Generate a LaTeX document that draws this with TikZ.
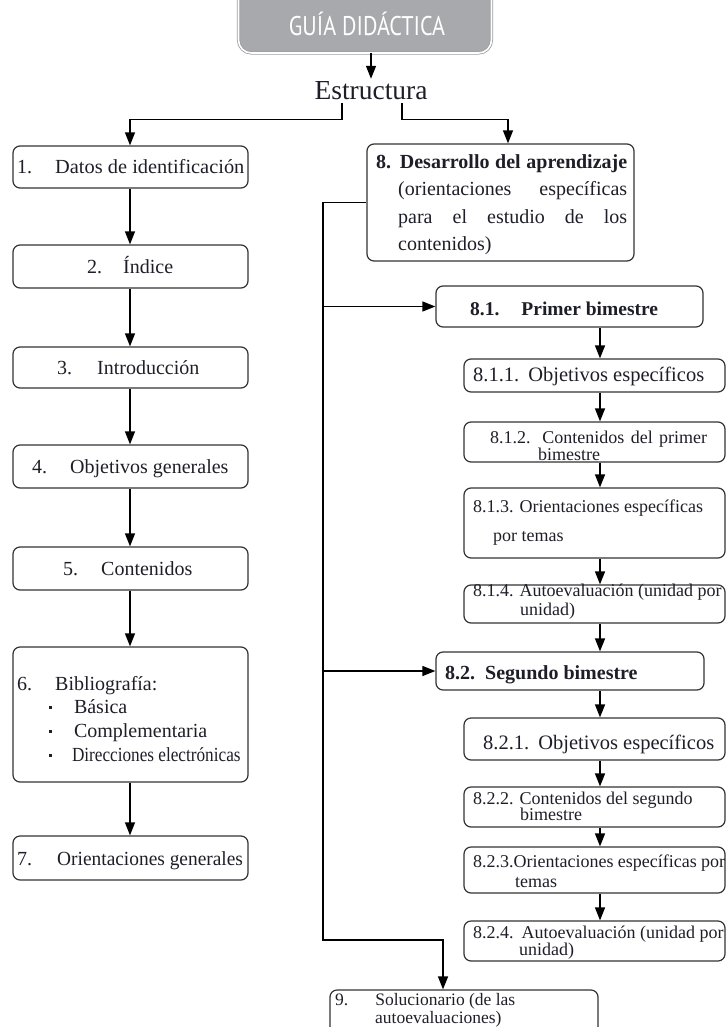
\documentclass[tikz,border=0pt]{standalone}
\usepackage{fontspec}
\setmainfont{Liberation Serif}
\newfontfamily\hdrfont{PT Sans}
\usetikzlibrary{arrows.meta}
\definecolor{ink}{HTML}{1E1E28}
\definecolor{hdrgray}{HTML}{A7A9AC}
\definecolor{hdredge}{HTML}{9C9EA1}
\definecolor{edge}{HTML}{333333}
\newcommand\mybox[5]{\node[box, minimum width={(#4-#2)*1pt}, minimum height={(#5-#3)*1pt}] (#1) at ({(#2+#4)/2},{(#3+#5)/2}) {};}
\newcommand\mybul{\raisebox{4.5pt}{\rule{2.8pt}{2.8pt}}}
\begin{document}
\begin{tikzpicture}[x=1pt,y=-1pt,
  box/.style={draw=edge, line width=1.2pt, rounded corners=7pt, rectangle, inner sep=0pt},
  txt/.style={inner sep=0pt, anchor=base west, text=ink, font=\fontsize{20}{22}\selectfont},
  sm/.style={txt, font=\fontsize{18}{20}\selectfont},
  arr/.style={draw=black, line width=1.3pt, -{Triangle[length=13pt,width=10pt]}},
  ln/.style={draw=black, line width=1.3pt}]
\useasboundingbox (0,0) rectangle (726,1027);
\begin{scope}
\clip (0,0) rectangle (726,1027);
% header
\node[draw=hdredge, double=white, double distance=1.6pt, line width=0.8pt, fill=hdrgray,
      rounded corners=13pt, minimum width=253pt, minimum height=76pt, inner sep=0pt] (hdr) at (365,15) {};
\node[inner sep=0pt, anchor=base, text=white, font=\hdrfont\fontsize{27}{27}\selectfont] (hdrt) at (367,36) {\scalebox{0.82}[1]{GUÍA DIDÁCTICA}};
\node[inner xsep=0pt, inner ysep=3pt, anchor=base, text=ink, font=\fontsize{27.5}{28}\selectfont] (est) at (371,100) {Estructura};
\coordinate (xL) at (342,0);
\coordinate (xR) at (402,0);
\coordinate (xR8) at (508,0);
\coordinate (sp) at (323,940);
\coordinate (x9) at (443,0);
\coordinate (xr) at (600,0);
\coordinate (xl) at (130,0);

% left column boxes
\mybox{b1}{13}{146}{248}{188}
\mybox{b2}{13}{245}{248}{288}
\mybox{b3}{13}{347}{248}{388}
\mybox{b4}{13}{445}{248}{488}
\mybox{b5}{13}{547}{248}{590}
\mybox{b6}{13}{647}{248}{782}
\mybox{b7}{13}{836}{248}{880}
% right column boxes
\mybox{b8}{367}{144}{634}{261}
\mybox{b81}{436}{286}{703}{327}
\mybox{b811}{464}{359}{725}{392}
\mybox{b812}{464}{422}{725}{462}
\mybox{b813}{464}{488}{725}{558}
\mybox{b814}{464}{585}{725}{623}
\mybox{b82}{436}{652}{704}{690}
\mybox{b821}{464}{718}{725}{760}
\mybox{b822}{464}{787}{725}{827}
\mybox{b823}{464}{847}{725}{893}
\mybox{b824}{464}{921}{725}{961}
\mybox{b9}{330}{990}{598}{1040}

% texts left
\node[txt] (t1) at (17,174) {1.\hspace{23pt}\scalebox{1.02}[1]{Datos de identificación}};
\node[txt] (t2) at (87,273) {2.\hspace{21pt}Índice};
\node[txt] (t3) at (57,374) {3.\hspace{25pt}Introducción};
\node[txt] (t4) at (32,473) {4.\hspace{23pt}Objetivos generales};
\node[txt] (t5) at (63,575) {5.\hspace{23pt}Contenidos};
\node[txt] (t6) at (17,690) {6.\hspace{23pt}Bibliografía:};
\node[txt] (t6a) at (49,713) {\mybul\hspace{22pt}Básica};
\node[txt] (t6b) at (49,737) {\mybul\hspace{22pt}Complementaria};
\node[txt] (t6c) at (49,761) {\mybul\hspace{20pt}\scalebox{0.86}[1]{Direcciones electrónicas}};
\node[txt] (t7) at (17,865) {7.\hspace{25pt}\scalebox{0.97}[1]{Orientaciones generales}};

% texts right
\node[txt] (t8a) at (376,168) {\makebox[251pt][s]{\bfseries 8. Desarrollo del aprendizaje}};
\node[txt] (t8b) at (398,196) {\makebox[229pt][s]{(orientaciones específicas}};
\node[txt] (t8c) at (398,223) {\makebox[229pt][s]{para el estudio de los}};
\node[txt] (t8d) at (398,250) {contenidos)};
\node[txt, font=\fontsize{19.5}{22}\selectfont\bfseries] (t81) at (470,315) {8.1.\hspace{22pt}Primer bimestre};
\node[txt, font=\fontsize{20.5}{22}\selectfont] (t811) at (473,381) {8.1.1.\hspace{9pt}Objetivos específicos};
\node[sm] (t812a) at (490,443) {\makebox[217pt][s]{8.1.2. Contenidos del primer}};
\node[sm] (t812b) at (538,460) {bimestre};
\node[sm] (t813a) at (473,512) {8.1.3.\hspace{6pt}Orientaciones específicas};
\node[sm] (t813b) at (493,541) {por temas};
\node[sm] (t814a) at (473,596) {8.1.4. Autoevaluación (unidad por};
\node[sm] (t814b) at (520,615) {unidad)};
\node[txt, font=\fontsize{20}{22}\selectfont\bfseries] (t82) at (445,679) {8.2.\hspace{10pt}Segundo bimestre};
\node[txt, font=\fontsize{20.5}{22}\selectfont] (t821) at (483,749) {8.2.1.\hspace{9pt}Objetivos específicos};
\node[sm] (t822a) at (473,804) {8.2.2. Contenidos del segundo};
\node[sm] (t822b) at (520,820) {bimestre};
\node[sm] (t823a) at (473,867) {\makebox[252pt][s]{8.2.3.Orientaciones específicas por}};
\node[sm] (t823b) at (515,887) {temas};
\node[sm] (t824a) at (473,938) {8.2.4.\hspace{8pt}Autoevaluación (unidad por};
\node[sm] (t824b) at (519,955) {unidad)};
\node[txt, font=\fontsize{17.5}{19}\selectfont] (t9a) at (335,1005) {9.\hspace{27pt}Solucionario (de las};
\node[txt, font=\fontsize{17.5}{19}\selectfont] (t9b) at (375,1023) {autoevaluaciones)};

% connectors
\draw[arr] (hdr.south -| est.north) -- (est.north);
\draw[arr] (est.south -| xL) -- ++(0,16) -| (b1.north -| xl);
\draw[arr] (est.south -| xR) -- ++(0,16) -| (b8.north -| xR8);
\draw[arr] (b1.south -| xl) -- (b2.north -| xl);
\draw[arr] (b2.south -| xl) -- (b3.north -| xl);
\draw[arr] (b3.south -| xl) -- (b4.north -| xl);
\draw[arr] (b4.south -| xl) -- (b5.north -| xl);
\draw[arr] (b5.south -| xl) -- (b6.north -| xl);
\draw[arr] (b6.south -| xl) -- (b7.north -| xl);
\draw[arr] (b8.west) -| (sp) -| (b9.north -| x9);
\draw[arr] (b81.west -| sp) -- (b81.west);
\draw[arr] (b82.west -| sp) -- (b82.west);
\draw[arr] (b81.south -| xr) -- (b811.north -| xr);
\draw[arr] (b811.south -| xr) -- (b812.north -| xr);
\draw[arr] (b812.south -| xr) -- (b813.north -| xr);
\draw[arr] (b813.south -| xr) -- (b814.north -| xr);
\draw[arr] (b814.south -| xr) -- (b82.north -| xr);
\draw[arr] (b82.south -| xr) -- (b821.north -| xr);
\draw[arr] (b821.south -| xr) -- (b822.north -| xr);
\draw[arr] (b822.south -| xr) -- (b823.north -| xr);
\draw[arr] (b823.south -| xr) -- (b824.north -| xr);
\end{scope}
\end{tikzpicture}
\end{document}
